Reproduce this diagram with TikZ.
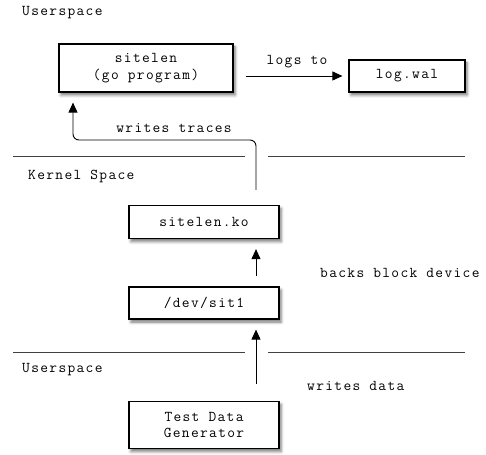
\documentclass[tikz,border=0pt]{standalone}
\usepackage{fontspec}
\setmonofont{Latin Modern Mono}[LetterSpace=9]
\usepackage{tikz}
\usetikzlibrary{arrows.meta,positioning,shadows.blur}

\begin{document}
\begin{tikzpicture}[
  x=1pt, y=-1pt,
  every node/.style={font=\ttfamily\fontsize{15}{16.5}\selectfont},
  box/.style={draw, line width=1.2pt, fill=white, align=center, inner sep=0pt,
    blur shadow={shadow xshift=2pt, shadow yshift=-3pt, shadow blur radius=3pt, shadow opacity=55}},
  arrow/.style={-{Triangle[length=10pt, width=9pt]}, line width=0.9pt},
  sep/.style={line width=1pt, black!75},
  label/.style={anchor=west, inner sep=0pt}
]
\useasboundingbox (0,0) rectangle (486,454);

% boxes
\node[box, minimum width=174pt, minimum height=48pt] (sitelen) at (146,68) {sitelen\\(go program)};
\node[box, minimum width=116pt, minimum height=32pt] (wal) at (407,76) {log.wal};
\node[box, minimum width=150pt, minimum height=33pt] (ko) at (204,222) {sitelen.ko};
\node[box, minimum width=150pt, minimum height=32pt] (dev) at (204,303) {/dev/sit1};
\node[box, minimum width=150pt, minimum height=47pt] (gen) at (204,425) {Test Data\\Generator};

% space separators
\coordinate (gapHigh) at (256,157);
\coordinate (gapLow) at (256,352);
\draw[sep] (13,157) -- (245,157) (268,157) -- (465,157);
\draw[sep] (13,352) -- (245,352) (268,352) -- (465,352);

\node[label] (userTop) at (22,13) {Userspace};
\node[label] (kernel) at (28,176) {Kernel Space};
\node[label] (userLow) at (22,370) {Userspace};

% connectors
\draw[arrow, shorten <=12pt, shorten >=6pt] (sitelen.east |- wal) -- (wal.west);
\node (logsto) at (297,62) {logs to};

\draw[arrow, shorten <=15pt, shorten >=10pt, rounded corners=6pt]
  (ko.north -| gapHigh) -- (256,140) -- (73,140) -- (sitelen.south -| 73,0);
\node (traces) at (174,128) {writes traces};

\draw[arrow, shorten <=10pt, shorten >=10pt] (dev.north -| gapLow) -- (ko.south -| gapLow);
\node[label] (backs) at (320,273) {backs block device};

\draw[arrow, shorten <=17pt, shorten >=10pt] (gen.north -| gapLow) -- (dev.south -| gapLow);
\node[label] (wdata) at (307,386) {writes data};
\end{tikzpicture}
\end{document}
